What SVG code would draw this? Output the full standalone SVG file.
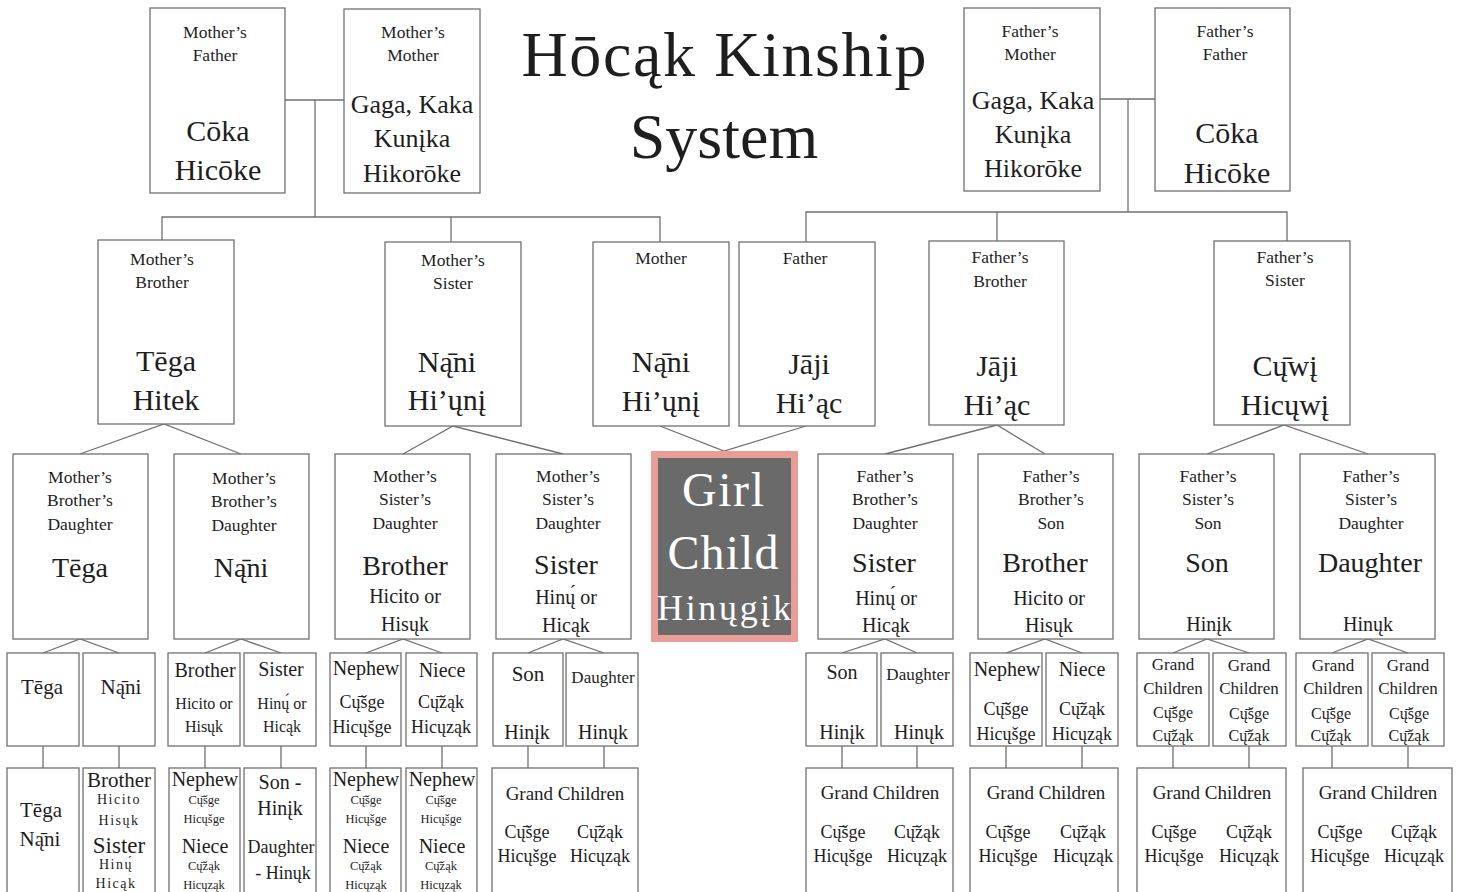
<svg xmlns="http://www.w3.org/2000/svg" width="1460" height="892" viewBox="0 0 1460 892">
<style>
.bg{fill:#fff}
.box{fill:#fff;stroke:#707070;stroke-width:1.3}
.girl{fill:#6a6a6a;stroke:#e89d95;stroke-width:7}
.cn{stroke:#707070;stroke-width:1.3;fill:none}
text{font-family:"Liberation Serif","Times New Roman",serif;fill:#1e1e1e;text-anchor:middle}
.t{font-size:64px}
.s{font-size:17.5px}
.n30{font-size:30px}
.n26{font-size:26px}
.n28{font-size:28px}
.n20{font-size:20px}
.r21{font-size:21px}
.r20{font-size:20px}
.r18{font-size:18px}
.r17{font-size:17px}
.r16{font-size:16px}
.r14{font-size:14px}
.w{fill:#fff}
</style>
<rect class="bg" x="0" y="0" width="1460" height="892"/>

<g id="connectors">
<polyline class="cn" points="285,100 344,100"/>
<polyline class="cn" points="315,100 315,217"/>
<polyline class="cn" points="162,240 162,217 660,217 660,242"/>
<polyline class="cn" points="451,217 451,242"/>
<polyline class="cn" points="1100,99 1155,99"/>
<polyline class="cn" points="1128,99 1128,212"/>
<polyline class="cn" points="806,242 806,212 1287,212 1287,241"/>
<polyline class="cn" points="997,212 997,241"/>
<polyline class="cn" points="80,454 164,424 241,454"/>
<polyline class="cn" points="403,454 453,426 563,454"/>
<polyline class="cn" points="660,426 724,451 806,426"/>
<polyline class="cn" points="885,454 997,425 1045,454"/>
<polyline class="cn" points="1207,454 1284,425 1368,454"/>
<polyline class="cn" points="43,653 80,639 119,653"/>
<polyline class="cn" points="205,653 241,639 281,653"/>
<polyline class="cn" points="366,653 403,639 442,653"/>
<polyline class="cn" points="528,653 563,639 604,653"/>
<polyline class="cn" points="842,653 885,639 917,653"/>
<polyline class="cn" points="1006,653 1045,639 1082,653"/>
<polyline class="cn" points="1173,653 1207,639 1249,653"/>
<polyline class="cn" points="1332,653 1368,639 1408,653"/>
<path class="cn" d="M43,746V768M119,746V768M205,746V768M281,746V768M366,746V768M442,746V768M528,746V768M604,746V768M842,746V768M917,746V768M1006,746V768M1082,746V768M1173,746V768M1249,746V768M1332,746V768M1408,746V768"/>
</g>

<g id="title">
<text class="t" x="724" y="76" textLength="405" lengthAdjust="spacing">Hōcąk Kinship</text>
<text class="t" x="724" y="158">System</text>
</g>

<g id="mothers-father">
<rect class="box" x="150" y="8" width="135" height="185"/>
<text class="s" x="215" y="38">Mother’s</text>
<text class="s" x="215" y="61">Father</text>
<text class="n30" x="218" y="141">Cōka</text>
<text class="n30" x="218" y="180">Hicōke</text>
</g>
<g id="mothers-mother">
<rect class="box" x="344" y="9" width="136" height="184"/>
<text class="s" x="413" y="38">Mother’s</text>
<text class="s" x="413" y="61">Mother</text>
<text class="n26" x="412" y="113">Gaga, Kaka</text>
<text class="n26" x="412" y="147">Kunįka</text>
<text class="n26" x="412" y="182">Hikorōke</text>
</g>
<g id="fathers-mother">
<rect class="box" x="964" y="8" width="136" height="183"/>
<text class="s" x="1030" y="37">Father’s</text>
<text class="s" x="1030" y="60">Mother</text>
<text class="n26" x="1033" y="109">Gaga, Kaka</text>
<text class="n26" x="1033" y="143">Kunįka</text>
<text class="n26" x="1033" y="177">Hikorōke</text>
</g>
<g id="fathers-father">
<rect class="box" x="1155" y="8" width="135" height="183"/>
<text class="s" x="1225" y="37">Father’s</text>
<text class="s" x="1225" y="60">Father</text>
<text class="n30" x="1227" y="143">Cōka</text>
<text class="n30" x="1227" y="183">Hicōke</text>
</g>

<g id="mothers-brother">
<rect class="box" x="98" y="240" width="136" height="184"/>
<text class="s" x="162" y="265">Mother’s</text>
<text class="s" x="162" y="288">Brother</text>
<text class="n30" x="166" y="371">Tēga</text>
<text class="n30" x="166" y="410">Hitek</text>
</g>
<g id="mothers-sister">
<rect class="box" x="385" y="242" width="136" height="184"/>
<text class="s" x="453" y="266">Mother’s</text>
<text class="s" x="453" y="289">Sister</text>
<text class="n30" x="447" y="372">Ną̄ni</text>
<text class="n30" x="447" y="410">Hi’ųnį</text>
</g>
<g id="mother">
<rect class="box" x="593" y="242" width="136" height="184"/>
<text class="s" x="661" y="264">Mother</text>
<text class="n30" x="661" y="372">Ną̄ni</text>
<text class="n30" x="661" y="411">Hi’ųnį</text>
</g>
<g id="father">
<rect class="box" x="739" y="242" width="136" height="184"/>
<text class="s" x="805" y="264">Father</text>
<text class="n30" x="809" y="374">Jāji</text>
<text class="n30" x="809" y="413">Hi’ąc</text>
</g>
<g id="fathers-brother">
<rect class="box" x="929" y="241" width="135" height="184"/>
<text class="s" x="1000" y="263">Father’s</text>
<text class="s" x="1000" y="287">Brother</text>
<text class="n30" x="997" y="376">Jāji</text>
<text class="n30" x="997" y="415">Hi’ąc</text>
</g>
<g id="fathers-sister">
<rect class="box" x="1214" y="241" width="136" height="184"/>
<text class="s" x="1285" y="263">Father’s</text>
<text class="s" x="1285" y="286">Sister</text>
<text class="n30" x="1285" y="376">Cų̄wį</text>
<text class="n30" x="1285" y="415">Hicųwį</text>
</g>

<g id="mbd-tega">
<rect class="box" x="13" y="454" width="135" height="185"/>
<text class="s" x="80" y="483">Mother’s</text>
<text class="s" x="80" y="506">Brother’s</text>
<text class="s" x="80" y="530">Daughter</text>
<text class="n28" x="80" y="577">Tēga</text>
</g>
<g id="mbd-nani">
<rect class="box" x="174" y="454" width="135" height="185"/>
<text class="s" x="244" y="484">Mother’s</text>
<text class="s" x="244" y="507">Brother’s</text>
<text class="s" x="244" y="531">Daughter</text>
<text class="n28" x="241" y="577">Ną̄ni</text>
</g>
<g id="msd-brother">
<rect class="box" x="335" y="454" width="135" height="185"/>
<text class="s" x="405" y="482">Mother’s</text>
<text class="s" x="405" y="505">Sister’s</text>
<text class="s" x="405" y="529">Daughter</text>
<text class="n28" x="405" y="575">Brother</text>
<text class="n20" x="405" y="603">Hicito or</text>
<text class="n20" x="405" y="631">Hisųk</text>
</g>
<g id="msd-sister">
<rect class="box" x="496" y="454" width="135" height="185"/>
<text class="s" x="568" y="482">Mother’s</text>
<text class="s" x="568" y="505">Sister’s</text>
<text class="s" x="568" y="529">Daughter</text>
<text class="n28" x="566" y="574">Sister</text>
<text class="n20" x="566" y="604">Hinų́ or</text>
<text class="n20" x="566" y="632">Hicąk</text>
</g>
<g id="girl-child">
<rect class="girl" x="654.5" y="454.5" width="140" height="184"/>
<text class="w" style="font-size:48px" x="723" y="506" textLength="82" lengthAdjust="spacing">Girl</text>
<text class="w" style="font-size:48px" x="723" y="569" textLength="111" lengthAdjust="spacing">Child</text>
<text class="w" style="font-size:36px" x="724" y="620" textLength="134" lengthAdjust="spacing">Hinųgįk</text>
</g>
<g id="fbd-sister">
<rect class="box" x="818" y="454" width="135" height="185"/>
<text class="s" x="885" y="482">Father’s</text>
<text class="s" x="885" y="505">Brother’s</text>
<text class="s" x="885" y="529">Daughter</text>
<text class="n28" x="884" y="572">Sister</text>
<text class="n20" x="886" y="605">Hinų́ or</text>
<text class="n20" x="886" y="632">Hicąk</text>
</g>
<g id="fbs-brother">
<rect class="box" x="978" y="454" width="135" height="185"/>
<text class="s" x="1051" y="482">Father’s</text>
<text class="s" x="1051" y="505">Brother’s</text>
<text class="s" x="1051" y="529">Son</text>
<text class="n28" x="1045" y="572">Brother</text>
<text class="n20" x="1049" y="605">Hicito or</text>
<text class="n20" x="1049" y="632">Hisųk</text>
</g>
<g id="fss-son">
<rect class="box" x="1139" y="454" width="135" height="185"/>
<text class="s" x="1208" y="482">Father’s</text>
<text class="s" x="1208" y="505">Sister’s</text>
<text class="s" x="1208" y="529">Son</text>
<text class="n28" x="1207" y="572">Son</text>
<text class="n20" x="1209" y="631">Hinįk</text>
</g>
<g id="fsd-daughter">
<rect class="box" x="1300" y="454" width="135" height="185"/>
<text class="s" x="1371" y="482">Father’s</text>
<text class="s" x="1371" y="505">Sister’s</text>
<text class="s" x="1371" y="529">Daughter</text>
<text class="n28" x="1370" y="572">Daughter</text>
<text class="n20" x="1368" y="631">Hinųk</text>
</g>

<g id="r4-tega"><rect class="box" x="7" y="653" width="72" height="93"/><text class="r21" x="42" y="694">Tēga</text></g>
<g id="r4-nani"><rect class="box" x="83" y="653" width="72" height="93"/><text class="r21" x="121" y="694">Ną̄ni</text></g>
<g id="r4-brother"><rect class="box" x="168" y="653" width="72" height="93"/><text class="r20" x="205" y="677">Brother</text><text class="r16" x="204" y="709">Hicito or</text><text class="r16" x="204" y="732">Hisųk</text></g>
<g id="r4-sister"><rect class="box" x="244" y="653" width="72" height="93"/><text class="r20" x="281" y="676">Sister</text><text class="r16" x="282" y="709">Hinų́ or</text><text class="r16" x="282" y="732">Hicąk</text></g>
<g id="r4-nephew-l"><rect class="box" x="330" y="653" width="71" height="93"/><text class="r20" x="366" y="675">Nephew</text><text class="r18" x="362" y="708">Cų̄šge</text><text class="r18" x="362" y="733">Hicųšge</text></g>
<g id="r4-niece-l"><rect class="box" x="406" y="653" width="71" height="93"/><text class="r20" x="442" y="677">Niece</text><text class="r18" x="441" y="708">Cų̄žąk</text><text class="r18" x="441" y="733">Hicųząk</text></g>
<g id="r4-son-l"><rect class="box" x="493" y="653" width="70" height="93"/><text class="r21" x="528" y="681">Son</text><text class="r20" x="527" y="739">Hinįk</text></g>
<g id="r4-daughter-l"><rect class="box" x="566" y="653" width="72" height="93"/><text class="r17" x="603" y="683">Daughter</text><text class="r20" x="603" y="739">Hinųk</text></g>
<g id="r4-son-r"><rect class="box" x="806" y="653" width="71" height="93"/><text class="r20" x="842" y="679">Son</text><text class="r20" x="842" y="739">Hinįk</text></g>
<g id="r4-daughter-r"><rect class="box" x="881" y="653" width="72" height="93"/><text class="r17" x="918" y="680">Daughter</text><text class="r20" x="919" y="739">Hinųk</text></g>
<g id="r4-nephew-r"><rect class="box" x="970" y="653" width="72" height="93"/><text class="r20" x="1007" y="676">Nephew</text><text class="r18" x="1006" y="715">Cų̄šge</text><text class="r18" x="1006" y="740">Hicųšge</text></g>
<g id="r4-niece-r"><rect class="box" x="1046" y="653" width="72" height="93"/><text class="r20" x="1082" y="676">Niece</text><text class="r18" x="1082" y="715">Cų̄žąk</text><text class="r18" x="1082" y="740">Hicųząk</text></g>
<g id="r4-gc1"><rect class="box" x="1137" y="653" width="72" height="93"/><text class="r17" x="1173" y="670">Grand</text><text class="r17" x="1173" y="694">Children</text><text class="r16" x="1173" y="718">Cų̄šge</text><text class="r16" x="1173" y="741">Cų̄žąk</text></g>
<g id="r4-gc2"><rect class="box" x="1213" y="653" width="73" height="93"/><text class="r17" x="1249" y="671">Grand</text><text class="r17" x="1249" y="694">Children</text><text class="r16" x="1249" y="719">Cų̄šge</text><text class="r16" x="1249" y="741">Cų̄žąk</text></g>
<g id="r4-gc3"><rect class="box" x="1296" y="653" width="72" height="93"/><text class="r17" x="1333" y="671">Grand</text><text class="r17" x="1333" y="694">Children</text><text class="r16" x="1331" y="719">Cų̄šge</text><text class="r16" x="1331" y="741">Cų̄žąk</text></g>
<g id="r4-gc4"><rect class="box" x="1372" y="653" width="72" height="93"/><text class="r17" x="1408" y="671">Grand</text><text class="r17" x="1408" y="694">Children</text><text class="r16" x="1409" y="719">Cų̄šge</text><text class="r16" x="1409" y="741">Cų̄žąk</text></g>

<g id="r5-tega-nani"><rect class="box" x="7" y="768" width="72" height="135"/><text class="r21" x="41" y="817">Tēga</text><text class="r21" x="40" y="846">Ną̄ni</text></g>
<g id="r5-brother-sister"><rect class="box" x="83" y="768" width="72" height="135"/><text class="r21" x="119" y="787">Brother</text><text class="r14" x="119" y="804" style="letter-spacing:1.5px">Hicito</text><text class="r14" x="119" y="825" style="letter-spacing:1.5px">Hisųk</text><text style="font-size:23px" x="119" y="853">Sister</text><text class="r14" x="116" y="869" style="letter-spacing:1.5px">Hinų́</text><text class="r14" x="116" y="888" style="letter-spacing:1.5px">Hicąk</text></g>
<g id="r5-nephew-niece1"><rect class="box" x="169" y="768" width="71" height="135"/><text class="r19 r20" x="205" y="786">Nephew</text><text style="font-size:12.5px" x="204" y="804">Cų̄šge</text><text style="font-size:12.5px" x="204" y="823">Hicųšge</text><text class="r20" x="205" y="853">Niece</text><text style="font-size:12.5px" x="204" y="870">Cų̄žąk</text><text style="font-size:12.5px" x="204" y="889">Hicųząk</text></g>
<g id="r5-son-daughter"><rect class="box" x="244" y="768" width="72" height="135"/><text class="r20" x="280" y="789">Son -</text><text class="r20" x="280" y="815">Hinįk</text><text class="r18" x="281" y="853">Daughter</text><text class="r18" x="283" y="879">- Hinųk</text></g>
<g id="r5-nephew-niece2"><rect class="box" x="330" y="768" width="71" height="135"/><text class="r20" x="366" y="786">Nephew</text><text style="font-size:12.5px" x="366" y="804">Cų̄šge</text><text style="font-size:12.5px" x="366" y="823">Hicųšge</text><text class="r20" x="366" y="853">Niece</text><text style="font-size:12.5px" x="366" y="870">Cų̄žąk</text><text style="font-size:12.5px" x="366" y="889">Hicųząk</text></g>
<g id="r5-nephew-niece3"><rect class="box" x="406" y="768" width="71" height="135"/><text class="r20" x="442" y="786">Nephew</text><text style="font-size:12.5px" x="441" y="804">Cų̄šge</text><text style="font-size:12.5px" x="441" y="823">Hicųšge</text><text class="r20" x="442" y="853">Niece</text><text style="font-size:12.5px" x="441" y="870">Cų̄žąk</text><text style="font-size:12.5px" x="441" y="889">Hicųząk</text></g>
<g id="r5-gc-l"><rect class="box" x="492" y="768" width="146" height="135"/><text style="font-size:19px" x="565" y="800">Grand Children</text><text class="r18" x="527" y="838">Cų̄šge</text><text class="r18" x="600" y="838">Cų̄žąk</text><text class="r18" x="527" y="862">Hicųšge</text><text class="r18" x="600" y="862">Hicųząk</text></g>
<g id="r5-gc-1"><rect class="box" x="806" y="768" width="147" height="135"/><text style="font-size:19px" x="880" y="799">Grand Children</text><text class="r18" x="843" y="838">Cų̄šge</text><text class="r18" x="917" y="838">Cų̄žąk</text><text class="r18" x="843" y="862">Hicųšge</text><text class="r18" x="917" y="862">Hicųząk</text></g>
<g id="r5-gc-2"><rect class="box" x="970" y="768" width="148" height="135"/><text style="font-size:19px" x="1046" y="799">Grand Children</text><text class="r18" x="1008" y="838">Cų̄šge</text><text class="r18" x="1083" y="838">Cų̄žąk</text><text class="r18" x="1008" y="862">Hicųšge</text><text class="r18" x="1083" y="862">Hicųząk</text></g>
<g id="r5-gc-3"><rect class="box" x="1137" y="768" width="149" height="135"/><text style="font-size:19px" x="1212" y="799">Grand Children</text><text class="r18" x="1174" y="838">Cų̄šge</text><text class="r18" x="1249" y="838">Cų̄žąk</text><text class="r18" x="1174" y="862">Hicųšge</text><text class="r18" x="1249" y="862">Hicųząk</text></g>
<g id="r5-gc-4"><rect class="box" x="1303" y="768" width="149" height="135"/><text style="font-size:19px" x="1378" y="799">Grand Children</text><text class="r18" x="1340" y="838">Cų̄šge</text><text class="r18" x="1414" y="838">Cų̄žąk</text><text class="r18" x="1340" y="862">Hicųšge</text><text class="r18" x="1414" y="862">Hicųząk</text></g>
</svg>
